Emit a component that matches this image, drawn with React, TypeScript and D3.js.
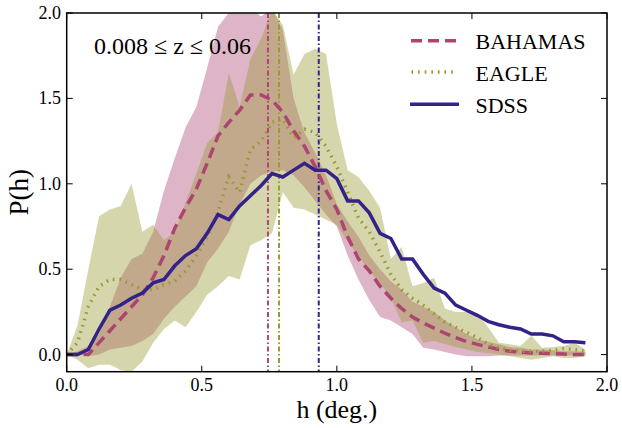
import React from "react";
import * as d3 from "d3";

const hBins = [0, 0.04, 0.08, 0.12, 0.16, 0.2, 0.24, 0.28, 0.32, 0.36, 0.4, 0.44, 0.48, 0.52, 0.56, 0.6, 0.64, 0.68, 0.72, 0.76, 0.8, 0.84, 0.88, 0.92, 0.96, 1.0, 1.04, 1.08, 1.12, 1.16, 1.2, 1.24, 1.28, 1.32, 1.36, 1.4, 1.44, 1.48, 1.52, 1.56, 1.6, 1.64, 1.68, 1.72, 1.76, 1.8, 1.84, 1.88, 1.92];

const sdss = [0.0, 0.0, 0.03, 0.15, 0.26, 0.29, 0.33, 0.36, 0.42, 0.44, 0.52, 0.58, 0.62, 0.71, 0.82, 0.79, 0.87, 0.93, 0.99, 1.06, 1.04, 1.08, 1.12, 1.08, 1.08, 1.03, 0.9, 0.9, 0.83, 0.71, 0.68, 0.56, 0.56, 0.47, 0.39, 0.36, 0.29, 0.26, 0.23, 0.195, 0.175, 0.16, 0.15, 0.12, 0.12, 0.11, 0.075, 0.075, 0.07];

const bahamas = [0.0, 0.0, 0.0, 0.07, 0.14, 0.21, 0.28, 0.35, 0.45, 0.58, 0.74, 0.86, 0.97, 1.12, 1.28, 1.36, 1.43, 1.52, 1.52, 1.49, 1.42, 1.31, 1.22, 1.1, 0.96, 0.85, 0.69, 0.56, 0.49, 0.4, 0.33, 0.27, 0.22, 0.185, 0.155, 0.125, 0.1, 0.077, 0.06, 0.045, 0.03, 0.02, 0.015, 0.01, 0.008, 0.005, 0.003, 0.0, 0.0];

const eagle = [0.0, 0.07, 0.28, 0.4, 0.44, 0.44, 0.41, 0.38, 0.38, 0.41, 0.43, 0.49, 0.58, 0.69, 0.84, 1.04, 0.95, 1.2, 1.25, 1.36, 1.38, 1.27, 1.32, 1.3, 1.22, 1.1, 0.95, 0.8, 0.72, 0.6, 0.47, 0.38, 0.33, 0.29, 0.24, 0.19, 0.16, 0.13, 0.1, 0.06, 0.04, 0.025, 0.02, 0.02, 0.02, 0.025, 0.035, 0.03, 0.02];

const bahamasLow = [0.0, 0.0, -0.01, 0.0, 0.03, 0.04, 0.05, 0.08, 0.12, 0.21, 0.28, 0.34, 0.4, 0.54, 0.62, 0.72, 0.88, 1.0, 1.05, 1.07, 1.08, 1.05, 0.98, 0.9, 0.82, 0.75, 0.58, 0.44, 0.32, 0.22, 0.2, 0.16, 0.12, 0.04, 0.03, 0.015, 0.0, -0.01, -0.01, -0.01, -0.005, -0.005, -0.005, -0.005, -0.005, -0.005, -0.005, -0.005, -0.005];

const bahamasHigh = [0.0, 0.02, 0.05, 0.12, 0.28, 0.45, 0.56, 0.59, 0.72, 0.96, 1.15, 1.33, 1.45, 1.68, 1.92, 2.0, 2.03, 2.03, 1.98, 2.03, 1.9, 1.5, 1.3, 1.18, 1.05, 0.88, 0.78, 0.69, 0.58, 0.5, 0.43, 0.38, 0.31, 0.28, 0.25, 0.2, 0.16, 0.12, 0.09, 0.075, 0.06, 0.045, 0.04, 0.03, 0.03, 0.025, 0.02, 0.02, 0.015];

const eagleLow = [0.0, -0.03, -0.08, -0.06, -0.06, -0.09, -0.1, -0.04, 0.07, 0.15, 0.2, 0.16, 0.25, 0.35, 0.4, 0.46, 0.44, 0.64, 0.67, 0.71, 0.95, 0.86, 0.85, 0.82, 0.79, 0.76, 0.66, 0.58, 0.49, 0.42, 0.33, 0.19, 0.2, 0.07, 0.08, 0.06, 0.045, 0.03, 0.015, 0.01, 0.0, -0.01, -0.02, -0.03, -0.02, -0.01, -0.02, -0.02, -0.01];

const eagleHigh = [0.0, 0.17, 0.5, 0.81, 0.85, 0.87, 1.0, 0.72, 0.76, 0.67, 0.72, 0.89, 1.06, 1.24, 1.3, 1.65, 1.45, 1.73, 1.85, 2.02, 1.93, 1.64, 1.76, 1.79, 1.76, 1.35, 1.08, 1.04, 0.96, 0.86, 0.56, 0.63, 0.4, 0.42, 0.45, 0.27, 0.25, 0.25, 0.24, 0.16, 0.07, 0.06, 0.05, 0.11, 0.04, 0.045, 0.05, 0.07, 0.03];

const medianH = [0.745, 0.786, 0.933];
const seriesNames = ["BAHAMAS", "EAGLE", "SDSS"];
const xTicks = [0, 0.5, 1.0, 1.5, 2.0];
const yTicks = [0, 0.5, 1.0, 1.5, 2.0];

const C_BAH = "#ad4570";
const C_EAG = "#999933";
const C_SDSS = "#332288";
const FONT = "'Liberation Serif', 'Times New Roman', serif";
const tstyle = { fontFamily: FONT } as React.CSSProperties;

export default function App() {
  const W = 622, H = 428;
  const left = 66.7, right = 607, top = 13, bottom = 371.7;
  const x = d3.scaleLinear().domain([0, 2]).range([left, right]);
  const y = d3.scaleLinear().domain([-0.1, 2.0]).range([bottom, top]);

  const idx = hBins.map((_, i) => i);
  const line = (vals: number[]) =>
    d3.line<number>().x((i) => x(hBins[i])).y((i) => y(vals[i]))(idx) || "";
  const area = (lo: number[], hi: number[]) =>
    d3.area<number>().x((i) => x(hBins[i])).y0((i) => y(lo[i])).y1((i) => y(hi[i]))(idx) || "";

  const colors = [C_BAH, C_EAG, C_SDSS];
  const tick = 6;

  return (
    <svg width={W} height={H} style={{ position: "absolute", left: 0, top: 0, background: "#fff" }}>
      <defs>
        <clipPath id="plotclip">
          <rect x={left} y={top} width={right - left} height={bottom - top} />
        </clipPath>
      </defs>
      <g clipPath="url(#plotclip)">
        <path d={area(bahamasLow, bahamasHigh)} fill={C_BAH} fillOpacity={0.4} stroke="none" />
        <path d={area(eagleLow, eagleHigh)} fill={C_EAG} fillOpacity={0.4} stroke="none" />
        {medianH.map((m, i) => (
          <line key={i} x1={x(m)} x2={x(m)} y1={top} y2={bottom} stroke={colors[i]} strokeWidth={2} strokeDasharray="5,2.5,1.5,2.5" />
        ))}
        <path d={line(bahamas)} fill="none" stroke={C_BAH} strokeWidth={3.5} strokeDasharray="11,6" />
        <path d={line(eagle)} fill="none" stroke={C_EAG} strokeWidth={3.5} strokeDasharray="1.6,5" />
        <path d={line(sdss)} fill="none" stroke={C_SDSS} strokeWidth={3.5} strokeLinejoin="miter" />
      </g>

      <rect x={left} y={top} width={right - left} height={bottom - top} fill="none" stroke="#000" strokeWidth={1.5} />

      {xTicks.map((t) => (
        <g key={"x" + t}>
          <line x1={x(t)} x2={x(t)} y1={bottom} y2={bottom - tick} stroke="#000" strokeWidth={1} />
          <line x1={x(t)} x2={x(t)} y1={top} y2={top + tick} stroke="#000" strokeWidth={1} />
          <text x={x(t)} y={391} fontSize={18} textAnchor="middle" fill="#000" style={tstyle}>{t.toFixed(1)}</text>
        </g>
      ))}
      {yTicks.map((t) => (
        <g key={"y" + t}>
          <line x1={left} x2={left + tick} y1={y(t)} y2={y(t)} stroke="#000" strokeWidth={1} />
          <line x1={right} x2={right - tick} y1={y(t)} y2={y(t)} stroke="#000" strokeWidth={1} />
          <text x={61} y={y(t) + 6} fontSize={18} textAnchor="end" fill="#000" style={tstyle}>{t.toFixed(1)}</text>
        </g>
      ))}

      <text x={(left + right) / 2} y={418} fontSize={26} textAnchor="middle" fill="#000" style={tstyle}>h (deg.)</text>
      <text transform={`translate(28,${(top + bottom) / 2}) rotate(-90)`} fontSize={27} textAnchor="middle" fill="#000" style={tstyle}>P(h)</text>

      <text x={94} y={54} fontSize={24} fill="#000" style={tstyle}>0.008 ≤ z ≤ 0.06</text>

      <g>
        <line x1={411} x2={457} y1={40.7} y2={40.7} stroke={C_BAH} strokeWidth={3.5} strokeDasharray="11,6" />
        <line x1={411.5} x2={455} y1={72} y2={72} stroke={C_EAG} strokeWidth={3.5} strokeDasharray="1.6,5" />
        <line x1={410} x2={459} y1={104.3} y2={104.3} stroke={C_SDSS} strokeWidth={3.5} />
        {seriesNames.map((n, i) => (
          <text key={n} x={475.5} y={49 + i * 32} fontSize={22} fill="#000" style={tstyle}>{n}</text>
        ))}
      </g>
    </svg>
  );
}
